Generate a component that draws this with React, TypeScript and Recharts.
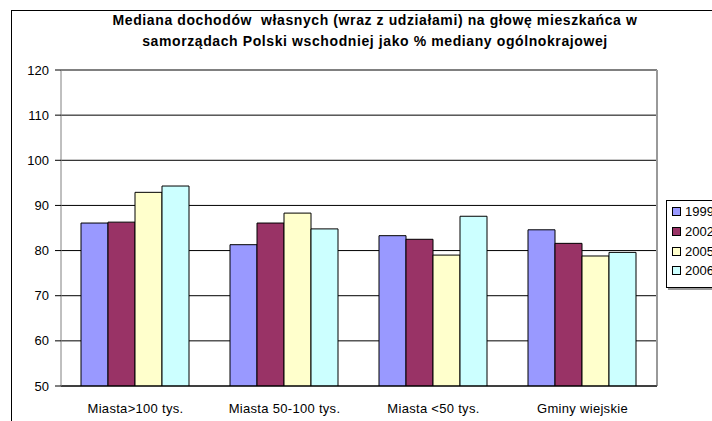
import { BarChart, Bar, XAxis, YAxis, CartesianGrid, Legend, ReferenceLine } from "recharts";

const categories = ["Miasta>100 tys.", "Miasta 50-100 tys.", "Miasta <50 tys.", "Gminy wiejskie"];
const v1999 = [86.1, 81.3, 83.3, 84.6];
const v2002 = [86.3, 86.1, 82.5, 81.6];
const v2005 = [92.9, 88.3, 79.0, 78.8];
const v2006 = [94.3, 84.8, 87.6, 79.6];
const yTicks = [50, 60, 70, 80, 90, 100, 110, 120];
const edgeTicks = [0, 1, 2, 3, 4];

const series = [
  { key: "y1999", name: "1999", color: "#9999FF" },
  { key: "y2002", name: "2002", color: "#993366" },
  { key: "y2005", name: "2005", color: "#FFFFCC" },
  { key: "y2006", name: "2006", color: "#CCFFFF" },
];

const data = categories.map((c, i) => ({
  name: c,
  pos: i + 0.5,
  y1999: v1999[i],
  y2002: v2002[i],
  y2005: v2005[i],
  y2006: v2006[i],
}));

const font = "'Liberation Sans', Arial, sans-serif";

function LegendBox() {
  return (
    <div
      style={{
        border: "1px solid #000",
        background: "#fff",
        padding: "1px 5px 6px",
        boxShadow: "2px 2px 0 #999",
        fontFamily: font,
        fontSize: 13,
        color: "#000",
      }}
    >
      {series.map((s) => (
        <div key={s.key} style={{ display: "flex", alignItems: "center", height: 19.7 }}>
          <span
            style={{
              display: "inline-block",
              width: 7,
              height: 7,
              background: s.color,
              border: "1px solid #000",
              marginRight: 4,
            }}
          />
          {s.name}
        </div>
      ))}
    </div>
  );
}

export default function App() {
  return (
    <div
      style={{
        position: "fixed",
        left: 0,
        top: 0,
        width: 712,
        height: 421,
        overflow: "hidden",
        background: "#fff",
      }}
    >
      <div
        style={{
          position: "absolute",
          left: 11,
          top: 10,
          width: 800,
          height: 500,
          border: "1px solid #000",
        }}
      />
      <div
        style={{
          position: "absolute",
          left: 0,
          top: 10,
          width: 750,
          textAlign: "center",
          fontFamily: font,
          fontWeight: "bold",
          fontSize: 14,
          letterSpacing: 0.6,
          lineHeight: "21px",
          color: "#000",
        }}
      >
        Mediana dochodów&nbsp; własnych (wraz z udziałami) na głowę mieszkańca w
        <br />
        samorządach Polski wschodniej jako % mediany ogólnokrajowej
      </div>
      <div style={{ position: "absolute", left: 0, top: 0 }}>
        <BarChart
          width={800}
          height={440}
          data={data}
          margin={{ top: 70, right: 143, left: 0, bottom: 0 }}
          barCategoryGap={20}
          barGap={0}
        >
          <CartesianGrid vertical={false} stroke="#000" />
          <XAxis
            xAxisId="edges"
            type="number"
            dataKey="pos"
            domain={[0, 4]}
            ticks={edgeTicks}
            height={0}
            tick={false}
            axisLine={false}
            tickLine={{ stroke: "#000" }}
            tickSize={4}
          />
          <XAxis
            dataKey="name"
            height={54}
            axisLine={{ stroke: "#000" }}
            tickLine={false}
            tick={{ fill: "#000", fontSize: 13, fontFamily: font, letterSpacing: 0.3 }}
            tickMargin={12}
            interval={0}
          />
          <YAxis
            width={61}
            domain={[50, 120]}
            ticks={yTicks}
            axisLine={{ stroke: "#808080" }}
            tickLine={{ stroke: "#000" }}
            tick={{ fill: "#000", fontSize: 13, fontFamily: font }}
            tickMargin={6}
            allowDataOverflow
          />
          <ReferenceLine y={120} stroke="#808080" strokeWidth={1.5} />
          <ReferenceLine x={4} xAxisId="edges" stroke="#999" strokeWidth={2} />
          <Legend
            layout="vertical"
            verticalAlign="middle"
            align="center"
            content={() => <LegendBox />}
            wrapperStyle={{ left: 666, top: 200, width: 80 }}
          />
          {series.map((s) => (
            <Bar
              key={s.key}
              dataKey={s.key}
              name={s.name}
              fill={s.color}
              stroke="#000"
              strokeWidth={1}
              isAnimationActive={false}
            />
          ))}
        </BarChart>
      </div>
    </div>
  );
}
